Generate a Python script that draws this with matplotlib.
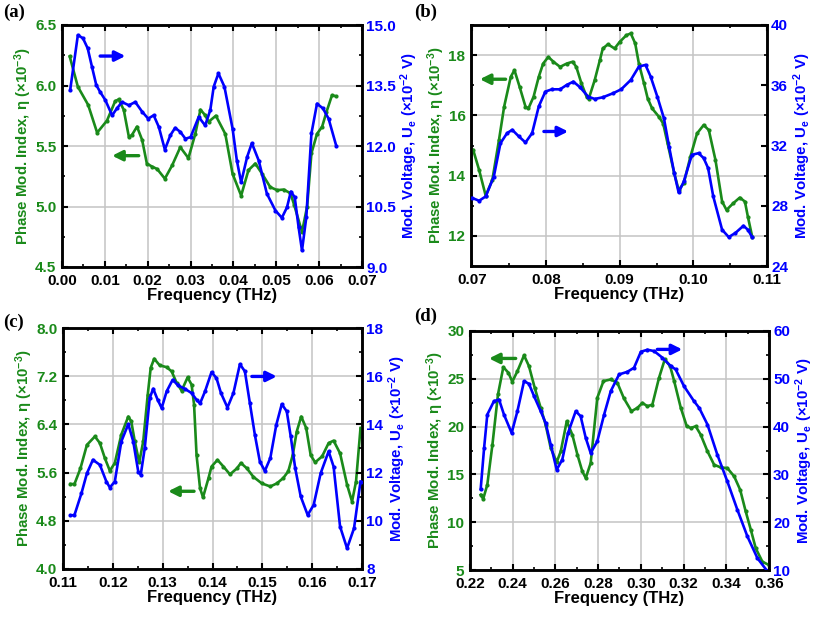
import numpy as np
import matplotlib
matplotlib.use("Agg")
import matplotlib.pyplot as plt
from matplotlib.ticker import MultipleLocator, FormatStrFormatter

plt.rcParams['font.family'] = ['Liberation Sans', 'DejaVu Sans']
plt.rcParams['font.weight'] = 'bold'
plt.rcParams['mathtext.fontset'] = 'custom'
plt.rcParams['mathtext.rm'] = 'Liberation Sans:bold'
plt.rcParams['mathtext.bf'] = 'Liberation Sans:bold'
plt.rcParams['mathtext.default'] = 'rm'

GREEN = '#1a8a1a'
BLUE = '#0000ff'

# ---------------- Panel (a) ----------------
a_green_x = [0.0018, 0.0037, 0.0061, 0.0082, 0.0105, 0.0124, 0.0132, 0.0144, 0.0156, 0.0163,
             0.0175, 0.0187, 0.0198, 0.0210, 0.0222, 0.0240, 0.0257, 0.0276, 0.0295, 0.0311,
             0.0323, 0.0334, 0.0342, 0.0359, 0.0381, 0.0398, 0.0418, 0.0435, 0.0451, 0.0467,
             0.0486, 0.0502, 0.0517, 0.0533, 0.0542, 0.0560, 0.0572, 0.0582, 0.0595, 0.0607,
             0.0617, 0.0630, 0.0640]
a_green_y = [6.24, 5.99, 5.84, 5.61, 5.71, 5.87, 5.885, 5.80, 5.576, 5.59,
             5.66, 5.55, 5.355, 5.33, 5.31, 5.23, 5.34, 5.49, 5.40, 5.60,
             5.80, 5.755, 5.70, 5.75, 5.60, 5.27, 5.09, 5.30, 5.355, 5.27,
             5.16, 5.135, 5.14, 5.11, 5.01, 4.79, 5.00, 5.44, 5.60, 5.66,
             5.78, 5.92, 5.91]
a_blue_x = [0.0019, 0.0037, 0.0049, 0.0060, 0.0070, 0.0080, 0.0089, 0.0101, 0.0117, 0.0128,
            0.0140, 0.0156, 0.0171, 0.0187, 0.0201, 0.0214, 0.0226, 0.0240, 0.0253, 0.0264,
            0.0276, 0.0288, 0.0300, 0.0319, 0.0334, 0.0346, 0.0354, 0.0365, 0.0379, 0.0398,
            0.0408, 0.0418, 0.0432, 0.0443, 0.0459, 0.0478, 0.0498, 0.0513, 0.0525, 0.0534,
            0.0543, 0.0552, 0.0560, 0.0570, 0.0582, 0.0595, 0.0609, 0.0622, 0.0640]
a_blue_y = [13.38, 14.75, 14.67, 14.42, 13.96, 13.51, 13.34, 13.14, 12.76, 12.93,
            13.09, 13.01, 13.09, 12.85, 12.68, 12.76, 12.47, 11.91, 12.27, 12.45,
            12.35, 12.18, 12.22, 12.72, 12.51, 12.89, 13.47, 13.80, 13.47, 12.43,
            11.64, 11.10, 11.73, 12.07, 11.64, 10.82, 10.40, 10.22, 10.48, 10.87,
            10.73, 9.99, 9.41, 10.23, 12.31, 13.05, 12.93, 12.68, 12.00]

# ---------------- Panel (b) ----------------
b_green_x = [0.0701, 0.0709, 0.0718, 0.0727, 0.0736, 0.0743, 0.0752, 0.0757, 0.0764, 0.0772,
             0.0776, 0.0783, 0.0790, 0.0796, 0.0803, 0.0810, 0.0819, 0.0828, 0.0836, 0.0841,
             0.0848, 0.0855, 0.0858, 0.0866, 0.0873, 0.0877, 0.0884, 0.0893, 0.0900, 0.0909,
             0.0915, 0.0921, 0.0926, 0.0933, 0.0938, 0.0944, 0.0953, 0.0959, 0.0965, 0.0974,
             0.0980, 0.0987, 0.0996, 0.1005, 0.1014, 0.1021, 0.1030, 0.1039, 0.1045, 0.1054,
             0.1063, 0.1070, 0.1074, 0.1080]
b_green_y = [14.85, 14.19, 13.33, 13.86, 15.18, 16.29, 17.28, 17.50, 16.95, 16.29,
             16.23, 16.62, 17.28, 17.72, 17.94, 17.78, 17.61, 17.72, 17.78, 17.61,
             17.06, 16.62, 16.56, 17.17, 17.83, 18.22, 18.36, 18.22, 18.44, 18.66,
             18.72, 18.39, 17.72, 17.06, 16.56, 16.23, 15.96, 15.73, 15.07, 14.08,
             13.52, 13.75, 14.63, 15.40, 15.68, 15.51, 14.52, 13.14, 12.86, 13.08,
             13.27, 13.14, 12.64, 11.96]
b_blue_x = [0.0700, 0.0709, 0.0718, 0.0729, 0.0738, 0.0747, 0.0754, 0.0763, 0.0772, 0.0781,
            0.0790, 0.0799, 0.0808, 0.0819, 0.0828, 0.0837, 0.0846, 0.0857, 0.0866, 0.0877,
            0.0891, 0.0902, 0.0915, 0.0926, 0.0935, 0.0942, 0.0951, 0.0960, 0.0967, 0.0974,
            0.0980, 0.0987, 0.0998, 0.1007, 0.1014, 0.1020, 0.1027, 0.1039, 0.1048, 0.1057,
            0.1068, 0.1074, 0.1080]
b_blue_y = [28.51, 28.33, 28.62, 29.94, 32.15, 32.82, 33.04, 32.60, 32.20, 32.82,
            34.59, 35.58, 35.73, 35.73, 36.02, 36.24, 35.87, 35.25, 35.09, 35.20,
            35.47, 35.73, 36.35, 37.24, 37.35, 36.57, 35.25, 33.81, 31.93, 30.17,
            28.88, 29.61, 31.38, 31.49, 31.16, 30.50, 28.62, 26.41, 25.92, 26.19,
            26.67, 26.41, 25.90]

# ---------------- Panel (c) ----------------
c_green_x = [0.1115, 0.1123, 0.1135, 0.1148, 0.1164, 0.1174, 0.1184, 0.1194, 0.1204, 0.1217,
             0.1231, 0.1237, 0.1244, 0.1253, 0.1261, 0.1270, 0.1276, 0.1283, 0.1294, 0.1308,
             0.1318, 0.1328, 0.1338, 0.1350, 0.1358, 0.1363, 0.1368, 0.1375, 0.1381, 0.1392,
             0.1398, 0.1410, 0.1422, 0.1435, 0.1449, 0.1457, 0.1469, 0.1482, 0.1499, 0.1516,
             0.1529, 0.1542, 0.1552, 0.1561, 0.1569, 0.1578, 0.1588, 0.1597, 0.1606, 0.1620,
             0.1633, 0.1643, 0.1656, 0.1670, 0.1680, 0.1688, 0.1697]
c_green_y = [5.41, 5.41, 5.67, 6.06, 6.20, 6.09, 5.84, 5.63, 5.76, 6.23,
             6.53, 6.45, 6.12, 5.77, 6.12, 6.89, 7.34, 7.49, 7.38, 7.35,
             7.28, 7.09, 6.96, 7.18, 7.06, 6.73, 5.89, 5.34, 5.19, 5.51,
             5.70, 5.81, 5.70, 5.57, 5.67, 5.76, 5.67, 5.53, 5.42, 5.37,
             5.42, 5.51, 5.62, 5.89, 6.28, 6.53, 6.34, 5.89, 5.77, 5.87,
             6.09, 6.13, 5.92, 5.40, 5.12, 5.45, 6.34]
c_blue_x = [0.1115, 0.1123, 0.1137, 0.1148, 0.1160, 0.1174, 0.1187, 0.1194, 0.1204, 0.1217,
            0.1231, 0.1241, 0.1251, 0.1256, 0.1264, 0.1274, 0.1281, 0.1290, 0.1298, 0.1308,
            0.1320, 0.1331, 0.1345, 0.1358, 0.1368, 0.1375, 0.1385, 0.1398, 0.1408, 0.1417,
            0.1430, 0.1442, 0.1455, 0.1465, 0.1475, 0.1485, 0.1495, 0.1505, 0.1516, 0.1528,
            0.1539, 0.1549, 0.1557, 0.1566, 0.1577, 0.1591, 0.1603, 0.1617, 0.1633, 0.1643,
            0.1656, 0.1670, 0.1684, 0.1697]
c_blue_y = [10.22, 10.24, 11.14, 11.97, 12.53, 12.32, 11.63, 11.38, 11.63, 13.29,
            14.01, 13.29, 12.04, 11.91, 13.01, 15.09, 15.48, 15.02, 14.68, 15.37,
            15.85, 15.62, 15.47, 15.30, 15.02, 14.87, 15.37, 16.17, 15.92, 15.30,
            14.70, 15.30, 16.50, 16.20, 14.88, 13.57, 12.46, 12.07, 12.60, 13.98,
            14.84, 14.54, 13.50, 12.18, 11.01, 10.24, 10.66, 11.97, 12.88, 12.25,
            9.76, 8.86, 9.69, 11.63]

# ---------------- Panel (d) ----------------
d_green_x = [0.2250, 0.2262, 0.2281, 0.2305, 0.2331, 0.2356, 0.2380, 0.2398, 0.2422, 0.2453,
             0.2476, 0.2503, 0.2531, 0.2554, 0.2578, 0.2606, 0.2625, 0.2653, 0.2679, 0.2703,
             0.2726, 0.2742, 0.2765, 0.2796, 0.2825, 0.2859, 0.2890, 0.2921, 0.2956, 0.2984,
             0.3007, 0.3031, 0.3054, 0.3085, 0.3112, 0.3137, 0.3156, 0.3187, 0.3215, 0.3234,
             0.3257, 0.3280, 0.3312, 0.3343, 0.3374, 0.3405, 0.3437, 0.3465, 0.3491, 0.3515,
             0.3538, 0.3569, 0.3600]
d_green_y = [12.87, 12.45, 13.92, 18.11, 23.36, 26.22, 25.63, 24.69, 25.80, 27.45,
             26.33, 24.06, 21.96, 20.21, 17.76, 16.29, 17.41, 20.56, 19.16, 17.06,
             15.31, 14.62, 16.19, 23.01, 24.76, 24.93, 24.58, 22.94, 21.61, 21.96,
             22.48, 22.13, 22.31, 25.10, 27.03, 26.33, 24.76, 21.96, 20.03, 19.86,
             20.03, 19.16, 17.41, 16.01, 15.73, 15.66, 14.79, 13.39, 11.12, 9.20,
             7.27, 5.87, 5.52]
d_blue_x = [0.2250, 0.2266, 0.2281, 0.2312, 0.2336, 0.2359, 0.2395, 0.2422, 0.2453, 0.2476,
            0.2500, 0.2531, 0.2554, 0.2578, 0.2606, 0.2632, 0.2659, 0.2695, 0.2718, 0.2742,
            0.2765, 0.2796, 0.2828, 0.2859, 0.2898, 0.2937, 0.2968, 0.3000, 0.3031, 0.3062,
            0.3101, 0.3140, 0.3163, 0.3202, 0.3249, 0.3273, 0.3312, 0.3358, 0.3405, 0.3452,
            0.3499, 0.3546, 0.3600]
d_blue_y = [26.92, 35.52, 42.52, 45.31, 45.66, 42.52, 38.67, 43.22, 49.51, 48.95,
            46.36, 43.22, 40.77, 36.22, 30.98, 33.08, 38.67, 43.22, 42.17, 37.62,
            34.48, 36.92, 42.52, 47.41, 50.91, 51.47, 52.31, 55.66, 56.08, 55.80,
            54.41, 52.66, 51.96, 48.46, 45.31, 43.92, 40.42, 34.13, 28.53, 22.59,
            17.01, 12.46, 9.30]

panel_labels = ['(a)', '(b)', '(c)', '(d)']
xlabel = 'Frequency (THz)'
ylabel_left = r'Phase Mod. Index, η (×10$^{-3}$)'
ylabel_right = r'Mod. Voltage, U$_e$ (×10$^{-2}$ V)'

W, H = 828, 617
fig = plt.figure(figsize=(W / 100, H / 100), dpi=100)

def px_rect(l, t, r, b):
    return [l / W, 1 - b / H, (r - l) / W, (b - t) / H]

panels = [
    dict(rect=px_rect(62, 25, 362, 267), gx=a_green_x, gy=a_green_y, bx=a_blue_x, by=a_blue_y,
         xlim=(0.0, 0.07), xmaj=0.01, xmin=0.005, xfmt='%.2f',
         ylim=(4.5, 6.5), ymaj=0.5, ymin=0.25, yfmt='%.1f',
         rlim=(9.0, 15.0), rmaj=1.5, rmin=0.75, rfmt='%.1f',
         garrow=((0.0179, 5.42), (0.0117, 5.42)), barrow=((0.0089, 14.23), (0.0148, 14.23))),
    dict(rect=px_rect(471, 25, 767, 266), gx=b_green_x, gy=b_green_y, bx=b_blue_x, by=b_blue_y,
         xlim=(0.0698, 0.11), xmaj=0.01, xmin=0.005, xfmt='%.2f',
         ylim=(11, 19), ymaj=2, ymin=1, yfmt='%d',
         rlim=(24, 40), rmaj=4, rmin=2, rfmt='%d',
         garrow=((0.0745, 17.2), (0.0710, 17.2)), barrow=((0.0797, 32.93), (0.0830, 32.93))),
    dict(rect=px_rect(63, 328, 362, 569), gx=c_green_x, gy=c_green_y, bx=c_blue_x, by=c_blue_y,
         xlim=(0.11, 0.17), xmaj=0.01, xmin=0.005, xfmt='%.2f',
         ylim=(4.0, 8.0), ymaj=0.8, ymin=0.4, yfmt='%.1f',
         rlim=(8, 18), rmaj=2, rmin=1, rfmt='%d',
         garrow=((0.1363, 5.29), (0.1311, 5.29)), barrow=((0.1479, 15.99), (0.1529, 15.99))),
    dict(rect=px_rect(470, 331, 769, 570), gx=d_green_x, gy=d_green_y, bx=d_blue_x, by=d_blue_y,
         xlim=(0.22, 0.36), xmaj=0.02, xmin=0.01, xfmt='%.2f',
         ylim=(5, 30), ymaj=5, ymin=2.5, yfmt='%d',
         rlim=(10, 60), rmaj=10, rmin=5, rfmt='%d',
         garrow=((0.2414, 27.13), (0.2289, 27.13)), barrow=((0.3077, 56.15), (0.3194, 56.15))),
]

label_pos = [(3, 12), (414, 12), (3, 322), (414, 316)]

for i, p in enumerate(panels):
    ax = fig.add_axes(p['rect'])
    ax2 = ax.twinx()
    ax2.set_zorder(ax.get_zorder() + 1)
    ax2.patch.set_visible(False)

    ax.grid(True, which='major', color='#c4c4c4', lw=1.1)
    ax.set_axisbelow(True)

    ax.plot(p['gx'], p['gy'], color=GREEN, lw=1.9, marker='o', ms=2.0, zorder=3)
    ax2.plot(p['bx'], p['by'], color=BLUE, lw=1.9, marker='o', ms=2.0, zorder=3)

    ax.set_xlim(*p['xlim'])
    ax.set_ylim(*p['ylim'])
    ax2.set_ylim(*p['rlim'])

    x0 = np.ceil(p['xlim'][0] / p['xmaj'] - 1e-6) * p['xmaj']
    xt = np.round(np.arange(x0, p['xlim'][1] + 1e-9, p['xmaj']), 4) + 0.0
    ax.set_xticks(xt)
    ax.xaxis.set_minor_locator(MultipleLocator(p['xmin']))
    ax.xaxis.set_major_formatter(FormatStrFormatter(p['xfmt']))
    if i == 1:
        ax.set_yticks([12, 14, 16, 18])
    else:
        ax.set_yticks(np.arange(p['ylim'][0], p['ylim'][1] + 1e-9, p['ymaj']))
    ax.yaxis.set_minor_locator(MultipleLocator(p['ymin']))
    ax.yaxis.set_major_formatter(FormatStrFormatter(p['yfmt']))
    ax2.set_yticks(np.arange(p['rlim'][0], p['rlim'][1] + 1e-9, p['rmaj']))
    ax2.yaxis.set_minor_locator(MultipleLocator(p['rmin']))
    ax2.yaxis.set_major_formatter(FormatStrFormatter(p['rfmt']))

    ax.tick_params(axis='both', which='major', direction='in', length=4, width=1.5,
                   labelsize=11, top=True)
    ax.tick_params(axis='both', which='minor', direction='in', length=2.5, width=1.2, top=True)
    ax.tick_params(axis='x', which='major', pad=5)
    ax.tick_params(axis='y', labelcolor=GREEN, right=False, which='both', pad=4)
    ax2.tick_params(axis='y', which='major', direction='in', length=4, width=1.5,
                    labelsize=11, labelcolor=BLUE, pad=3)
    ax2.tick_params(axis='y', which='minor', direction='in', length=2.5, width=1.2)
    for lab in ax.get_xticklabels() + ax.get_yticklabels() + ax2.get_yticklabels():
        lab.set_fontweight('bold')

    for a in (ax, ax2):
        for s in a.spines.values():
            s.set_linewidth(1.8)
            s.set_color('black')

    ax.set_xlabel(xlabel, fontsize=12, fontweight='bold', labelpad=0)
    ax.set_ylabel(ylabel_left, fontsize=10.8, fontweight='bold', color=GREEN, labelpad=1)
    ax2.set_ylabel(ylabel_right, fontsize=10.8, fontweight='bold', color=BLUE, labelpad=2)

    (gt, gh) = p['garrow']
    ax.annotate('', xy=gh, xytext=gt,
                arrowprops=dict(arrowstyle='-|>', color=GREEN, lw=2.4, mutation_scale=15,
                                shrinkA=0, shrinkB=0))
    (bt, bh) = p['barrow']
    ax2.annotate('', xy=bh, xytext=bt,
                 arrowprops=dict(arrowstyle='-|>', color=BLUE, lw=2.4, mutation_scale=15,
                                 shrinkA=0, shrinkB=0))

    lx, ly = label_pos[i]
    fig.text(lx / W, 1 - ly / H, panel_labels[i], fontsize=13.5, fontweight='bold',
             family=['Liberation Serif', 'DejaVu Serif'], va='center', ha='left')

fig.savefig('out.png', dpi=100)
